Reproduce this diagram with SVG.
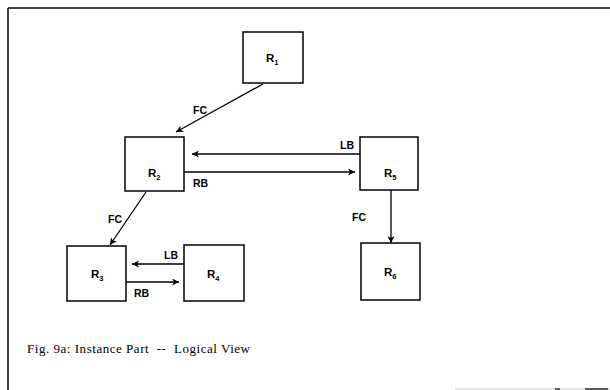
<svg xmlns="http://www.w3.org/2000/svg" width="610" height="390" viewBox="0 0 610 390">
<style>
.box{fill:#fff;stroke:#000;stroke-width:1.5}
.lbl{font-family:"Liberation Sans",Arial,sans-serif;font-weight:bold;font-size:11.5px;fill:#000}
.sub{font-size:7.5px}
.edge{stroke:#000;stroke-width:1.3;fill:none;marker-end:url(#ah)}
.el{font-family:"Liberation Sans",Arial,sans-serif;font-weight:bold;font-size:10.5px;fill:#000}
.cap{font-family:"Liberation Serif","Times New Roman",serif;font-size:13px;fill:#000}
</style>
<defs>
<marker id="ah" markerUnits="userSpaceOnUse" markerWidth="10" markerHeight="10" refX="7" refY="3.5" orient="auto">
<path d="M0,0 L7,3.5 L0,7 L2,3.5 Z" fill="#000"/>
</marker>
</defs>
<rect width="610" height="390" fill="#fff"/>
<g id="frame" stroke="#000" fill="none">
<line x1="8" y1="8" x2="610" y2="8" stroke-width="1.3"/>
<line x1="8" y1="8" x2="8" y2="390" stroke-width="1.5"/>
<line x1="455" y1="389" x2="610" y2="389" stroke="#ccc" stroke-width="1.2"/>
<line x1="555" y1="389" x2="560" y2="389" stroke-width="1.2"/>
<line x1="585" y1="389" x2="608" y2="389" stroke-width="1.2"/>
</g>
<g id="connectors">
<line class="edge" x1="263" y1="84" x2="176" y2="132"/>
<line class="edge" x1="360" y1="154" x2="192" y2="154"/>
<line class="edge" x1="184" y1="172" x2="355" y2="172"/>
<line class="edge" x1="146" y1="192" x2="110" y2="245"/>
<line class="edge" x1="184" y1="264" x2="132" y2="264"/>
<line class="edge" x1="126" y1="282" x2="179" y2="282"/>
<line class="edge" x1="391" y1="190" x2="391" y2="243"/>
<text class="el" x="193" y="114">FC</text>
<text class="el" x="340" y="149">LB</text>
<text class="el" x="193" y="187">RB</text>
<text class="el" x="108" y="223">FC</text>
<text class="el" x="164" y="259">LB</text>
<text class="el" x="134" y="297">RB</text>
<text class="el" x="352" y="221">FC</text>
</g>
<g id="R1"><rect class="box" x="243" y="32" width="60" height="51"/><text class="lbl" x="266" y="62">R<tspan class="sub" dy="3">1</tspan></text></g>
<g id="R2"><rect class="box" x="125" y="137" width="59" height="54"/><text class="lbl" x="148" y="177">R<tspan class="sub" dy="3">2</tspan></text></g>
<g id="R5"><rect class="box" x="360" y="137" width="58" height="53"/><text class="lbl" x="384" y="177">R<tspan class="sub" dy="3">5</tspan></text></g>
<g id="R3"><rect class="box" x="67" y="246" width="59" height="55"/><text class="lbl" x="91" y="278">R<tspan class="sub" dy="3">3</tspan></text></g>
<g id="R4"><rect class="box" x="184" y="245" width="60" height="56"/><text class="lbl" x="207" y="278">R<tspan class="sub" dy="3">4</tspan></text></g>
<g id="R6"><rect class="box" x="361" y="243" width="59" height="57"/><text class="lbl" x="384" y="276">R<tspan class="sub" dy="3">6</tspan></text></g>
<text class="cap" x="27" y="353" textLength="223" lengthAdjust="spacing">Fig. 9a: Instance Part &#160;-- &#160;Logical View</text>
</svg>
